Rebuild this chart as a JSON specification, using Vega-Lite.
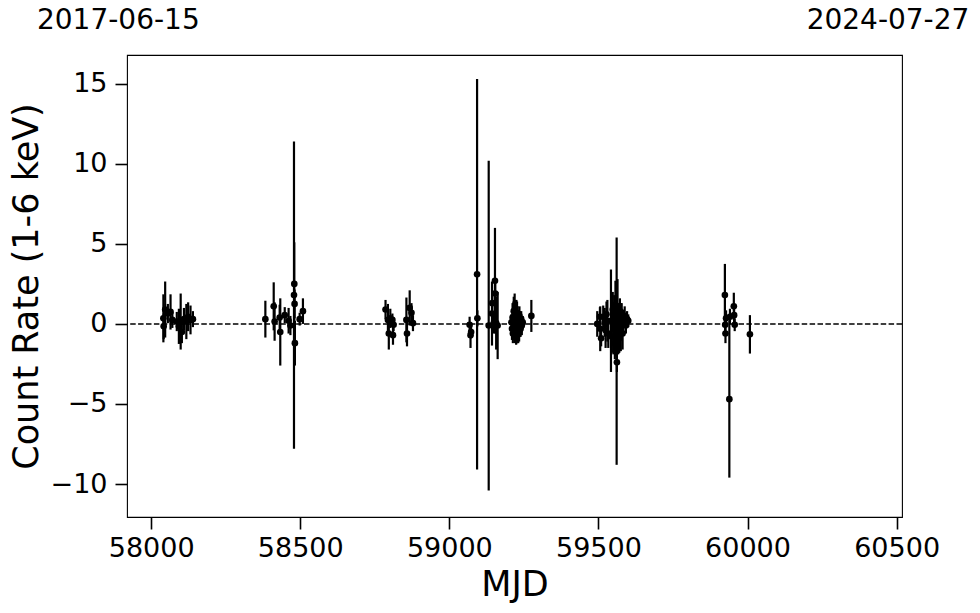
{
  "$schema": "https://vega.github.io/schema/vega-lite/v6.json",
  "width": 775,
  "height": 462,
  "autosize": {"type": "none"},
  "padding": {"left": 127, "top": 55, "right": 78, "bottom": 96},
  "background": "white",
  "config": {
    "font": "DejaVu Sans",
    "view": {"stroke": "black", "strokeWidth": 1.1},
    "axis": {
      "domain": false, "grid": false, "tickColor": "black", "tickWidth": 1.6, "tickSize": 12,
      "labelFont": "DejaVu Sans", "labelFontSize": 27, "labelColor": "black",
      "titleFont": "DejaVu Sans", "titleFontSize": 35, "titleFontWeight": "normal", "titleColor": "black"
    },
    "axisX": {"labelPadding": 6, "titlePadding": 6},
    "axisY": {"labelPadding": 8, "titlePadding": 6}
  },
  "datasets": {
    "obs": [
      {"mjd": 58041, "rate": 0.35, "err": 1.5},
      {"mjd": 58042, "rate": -0.15, "err": 0.8},
      {"mjd": 58047, "rate": 0.9, "err": 1.75},
      {"mjd": 58056, "rate": 0.65, "err": 0.6},
      {"mjd": 58065, "rate": 0.75, "err": 1.1},
      {"mjd": 58071, "rate": 0.25, "err": 0.5},
      {"mjd": 58086, "rate": 0.15, "err": 0.6},
      {"mjd": 58093, "rate": -0.15, "err": 1.1},
      {"mjd": 58099, "rate": 0.15, "err": 1.75},
      {"mjd": 58103, "rate": -0.5, "err": 0.7},
      {"mjd": 58110, "rate": 0.3, "err": 0.7},
      {"mjd": 58118, "rate": 0.15, "err": 1.1},
      {"mjd": 58124, "rate": 0.45, "err": 0.9},
      {"mjd": 58132, "rate": 0.25, "err": 0.9},
      {"mjd": 58140, "rate": 0.3, "err": 0.5},
      {"mjd": 58383, "rate": 0.3, "err": 1.15},
      {"mjd": 58411, "rate": 1.1, "err": 1.5},
      {"mjd": 58414, "rate": 0.15, "err": 1.2},
      {"mjd": 58431, "rate": 0.4, "err": 0.8},
      {"mjd": 58433, "rate": -0.5, "err": 2.1},
      {"mjd": 58448, "rate": 0.55, "err": 0.5},
      {"mjd": 58461, "rate": 0.2, "err": 0.8},
      {"mjd": 58467, "rate": -0.1, "err": 0.6},
      {"mjd": 58479, "rate": 1.8, "err": 9.6},
      {"mjd": 58480, "rate": 2.5, "err": 2.6},
      {"mjd": 58481, "rate": 1.25, "err": 0.9},
      {"mjd": 58482, "rate": -1.2, "err": 1.4},
      {"mjd": 58498, "rate": 0.3, "err": 0.4},
      {"mjd": 58509, "rate": 0.8, "err": 0.8},
      {"mjd": 58786, "rate": 0.9, "err": 0.6},
      {"mjd": 58794, "rate": 0.25, "err": 1.0},
      {"mjd": 58797, "rate": -0.6, "err": 1.0},
      {"mjd": 58802, "rate": 0.35, "err": 0.6},
      {"mjd": 58809, "rate": 0.25, "err": 0.4},
      {"mjd": 58811, "rate": -0.7, "err": 0.6},
      {"mjd": 58813, "rate": -0.05, "err": 0.4},
      {"mjd": 58856, "rate": 0.25, "err": 1.4},
      {"mjd": 58858, "rate": -0.6, "err": 0.8},
      {"mjd": 58867, "rate": 1.0, "err": 1.1},
      {"mjd": 58873, "rate": 0.7, "err": 0.6},
      {"mjd": 58878, "rate": 0.05, "err": 0.5},
      {"mjd": 59068, "rate": -0.05, "err": 0.5},
      {"mjd": 59071, "rate": -0.7, "err": 0.8},
      {"mjd": 59073, "rate": -0.5, "err": 0.4},
      {"mjd": 59093, "rate": 3.1, "err": 12.2},
      {"mjd": 59094, "rate": 0.35, "err": 0.5},
      {"mjd": 59132, "rate": -0.1, "err": 10.3},
      {"mjd": 59143, "rate": 0.65, "err": 2.0},
      {"mjd": 59144, "rate": 1.3, "err": 0.8},
      {"mjd": 59148, "rate": 0.0, "err": 0.6},
      {"mjd": 59153, "rate": 2.7, "err": 3.3},
      {"mjd": 59154, "rate": 1.9, "err": 0.75},
      {"mjd": 59157, "rate": 0.05, "err": 1.65},
      {"mjd": 59162, "rate": -0.1, "err": 2.1},
      {"mjd": 59208, "rate": 0.1, "err": 0.5},
      {"mjd": 59210, "rate": -0.3, "err": 0.7},
      {"mjd": 59212, "rate": 0.4, "err": 0.9},
      {"mjd": 59213, "rate": -0.6, "err": 0.6},
      {"mjd": 59215, "rate": 0.2, "err": 1.2},
      {"mjd": 59216, "rate": 0.8, "err": 0.9},
      {"mjd": 59218, "rate": -0.2, "err": 0.8},
      {"mjd": 59219, "rate": 0.5, "err": 1.4},
      {"mjd": 59220, "rate": -0.5, "err": 0.7},
      {"mjd": 59221, "rate": 0.0, "err": 1.0},
      {"mjd": 59223, "rate": 0.3, "err": 1.2},
      {"mjd": 59224, "rate": -0.4, "err": 0.9},
      {"mjd": 59225, "rate": 0.7, "err": 0.8},
      {"mjd": 59227, "rate": 0.1, "err": 1.3},
      {"mjd": 59228, "rate": -0.7, "err": 0.5},
      {"mjd": 59229, "rate": 0.4, "err": 0.7},
      {"mjd": 59231, "rate": -0.2, "err": 1.0},
      {"mjd": 59232, "rate": 0.2, "err": 0.6},
      {"mjd": 59234, "rate": -0.5, "err": 0.6},
      {"mjd": 59235, "rate": 0.5, "err": 0.6},
      {"mjd": 59237, "rate": 0.0, "err": 0.8},
      {"mjd": 59239, "rate": -0.3, "err": 0.5},
      {"mjd": 59241, "rate": 0.3, "err": 0.5},
      {"mjd": 59243, "rate": -0.1, "err": 0.6},
      {"mjd": 59246, "rate": 0.1, "err": 0.4},
      {"mjd": 59275, "rate": 0.5, "err": 1.0},
      {"mjd": 59496, "rate": 0.0, "err": 0.8},
      {"mjd": 59505, "rate": 0.45, "err": 0.6},
      {"mjd": 59506, "rate": -0.3, "err": 1.4},
      {"mjd": 59509, "rate": -0.9, "err": 0.5},
      {"mjd": 59516, "rate": 0.45, "err": 0.7},
      {"mjd": 59521, "rate": 0.1, "err": 0.9},
      {"mjd": 59524, "rate": -0.4, "err": 1.1},
      {"mjd": 59527, "rate": 0.6, "err": 0.8},
      {"mjd": 59530, "rate": 0.2, "err": 1.3},
      {"mjd": 59533, "rate": -0.6, "err": 0.9},
      {"mjd": 59542, "rate": 0.2, "err": 3.2},
      {"mjd": 59545, "rate": -0.8, "err": 1.0},
      {"mjd": 59548, "rate": 0.9, "err": 1.1},
      {"mjd": 59550, "rate": -0.3, "err": 1.6},
      {"mjd": 59553, "rate": 0.5, "err": 1.3},
      {"mjd": 59555, "rate": -1.2, "err": 1.0},
      {"mjd": 59557, "rate": 1.2, "err": 1.5},
      {"mjd": 59559, "rate": 0.0, "err": 2.0},
      {"mjd": 59561, "rate": -1.7, "err": 7.1},
      {"mjd": 59562, "rate": -2.4, "err": 0.6},
      {"mjd": 59564, "rate": 0.6, "err": 2.2},
      {"mjd": 59566, "rate": -0.5, "err": 1.4},
      {"mjd": 59568, "rate": 0.3, "err": 1.0},
      {"mjd": 59570, "rate": -0.9, "err": 0.9},
      {"mjd": 59572, "rate": 0.8, "err": 0.8},
      {"mjd": 59575, "rate": -0.2, "err": 1.5},
      {"mjd": 59578, "rate": 0.4, "err": 0.9},
      {"mjd": 59581, "rate": -0.6, "err": 1.0},
      {"mjd": 59584, "rate": 0.2, "err": 0.7},
      {"mjd": 59588, "rate": 0.5, "err": 0.6},
      {"mjd": 59592, "rate": -0.1, "err": 0.5},
      {"mjd": 59596, "rate": 0.3, "err": 0.5},
      {"mjd": 59600, "rate": 0.2, "err": 0.4},
      {"mjd": 59924, "rate": 1.8, "err": 1.95},
      {"mjd": 59925, "rate": -0.05, "err": 0.4},
      {"mjd": 59926, "rate": -0.6, "err": 0.6},
      {"mjd": 59928, "rate": 0.35, "err": 0.5},
      {"mjd": 59939, "rate": -4.7, "err": 4.9},
      {"mjd": 59941, "rate": 0.45, "err": 0.5},
      {"mjd": 59954, "rate": 1.1, "err": 0.85},
      {"mjd": 59955, "rate": 0.55, "err": 0.5},
      {"mjd": 59957, "rate": -0.05, "err": 0.4},
      {"mjd": 60008, "rate": -0.65, "err": 1.2}
    ],
    "ref": [{"level": 0}],
    "dates": [
      {"label": "2017-06-15", "mjd": 57890, "pos": 18.9},
      {"label": "2024-07-27", "mjd": 60471, "pos": 18.9}
    ]
  },
  "layer": [
    {
      "data": {"name": "ref"},
      "mark": {"type": "rule", "color": "black", "strokeWidth": 1.5, "strokeDash": [5.5, 2.4]},
      "encoding": {
        "y": {"field": "level", "type": "quantitative", "title": "Count Rate (1-6 keV)",
              "scale": {"domain": [-12.06, 16.8], "nice": false, "zero": false},
              "axis": {"values": [-10, -5, 0, 5, 10, 15]}}
      }
    },
    {
      "data": {"name": "obs"},
      "mark": {"type": "errorbar", "color": "black", "thickness": 2.2},
      "encoding": {
        "x": {"field": "mjd", "type": "quantitative", "title": "MJD",
              "scale": {"domain": [57919, 60518], "nice": false, "zero": false},
              "axis": {"values": [58000, 58500, 59000, 59500, 60000, 60500], "format": "d"}},
        "y": {"field": "rate", "type": "quantitative", "title": "Count Rate (1-6 keV)"},
        "yError": {"field": "err"}
      }
    },
    {
      "data": {"name": "obs"},
      "mark": {"type": "circle", "color": "black", "opacity": 1, "size": 44},
      "encoding": {
        "x": {"field": "mjd", "type": "quantitative", "title": "MJD"},
        "y": {"field": "rate", "type": "quantitative", "title": "Count Rate (1-6 keV)"}
      }
    },
    {
      "data": {"name": "dates"},
      "mark": {"type": "text", "color": "black", "font": "DejaVu Sans", "fontSize": 28, "align": "center", "baseline": "middle"},
      "encoding": {
        "x": {"field": "mjd", "type": "quantitative", "title": "MJD"},
        "y": {"field": "pos", "type": "quantitative", "title": "Count Rate (1-6 keV)"},
        "text": {"field": "label"}
      }
    }
  ]
}
